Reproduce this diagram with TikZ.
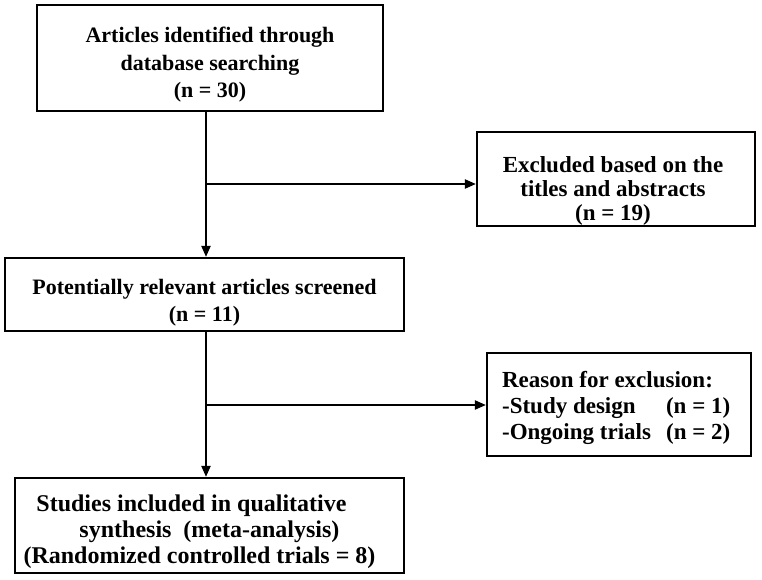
\documentclass[tikz,border=0pt]{standalone}
\usepackage{fontspec}
\setmainfont{Liberation Serif}
\usetikzlibrary{arrows.meta}

\tikzset{
  flowbox/.style={draw, line width=2.2pt, inner sep=0pt},
  boxtext/.style={inner sep=0pt, align=center,
    font=\fontsize{22}{27.5}\selectfont\bfseries},
  flowarrow/.style={line width=2pt, -{Triangle[length=11pt,width=9pt]}}
}

\begin{document}
\begin{tikzpicture}[x=1pt,y=-1pt]

  \useasboundingbox (0,0) rectangle (762,579);

  % boxes of the flow
  \node[flowbox, minimum width=346pt, minimum height=106pt] (ident) at (210,58) {};
  \node[flowbox, minimum width=278pt, minimum height=94pt] (excl) at (616,179) {};
  \node[flowbox, minimum width=399pt, minimum height=73pt] (screen) at (204.5,294.5) {};
  \node[flowbox, minimum width=264pt, minimum height=103pt] (reason) at (619,404.5) {};
  \node[flowbox, minimum width=389pt, minimum height=95pt] (incl) at (209.5,525.5) {};

  % texts in the boxes
  \node[boxtext] (identtext) at ([yshift=-7pt]ident.center)
    {Articles identified through\\database searching\\(n = 30)};
  \node[boxtext, font=\fontsize{23}{23.8}\selectfont\bfseries] (excltext)
    at ([xshift=-3pt,yshift=-12pt]excl.center)
    {Excluded based on the\\titles and abstracts\\(n = 19)};
  \node[boxtext] (screentext) at ([yshift=-8pt]screen.center)
    {Potentially relevant articles screened\\(n = 11)};
  \node[boxtext, align=left, anchor=west,
    font=\fontsize{23}{26}\selectfont\bfseries] (reasontext)
    at ([xshift=16pt,yshift=-3pt]reason.west)
    {Reason for exclusion:\\\makebox[164pt][l]{-Study design}(n = 1)\\
     \makebox[164pt][l]{-Ongoing trials}(n = 2)};
  \node[boxtext, font=\fontsize{24}{26}\selectfont\bfseries] (incltext)
    at ([xshift=-10pt,yshift=-6pt]incl.center)
    {Studies included in qualitative\hspace*{16pt}\\
     \hspace*{20pt}synthesis\ \ (meta-analysis)\\(Randomized controlled trials = 8)};

  % branch points
  \coordinate (b1) at (206,184);
  \coordinate (b2) at (206,405);

  \draw[flowarrow] (ident.south -| b1) -- (screen.north -| b1);
  \draw[flowarrow] (b1) -- (b1 -| excl.west);
  \draw[flowarrow] (screen.south -| b2) -- (incl.north -| b2);
  \draw[flowarrow] (b2) -- (b2 -| reason.west);
\end{tikzpicture}
\end{document}
